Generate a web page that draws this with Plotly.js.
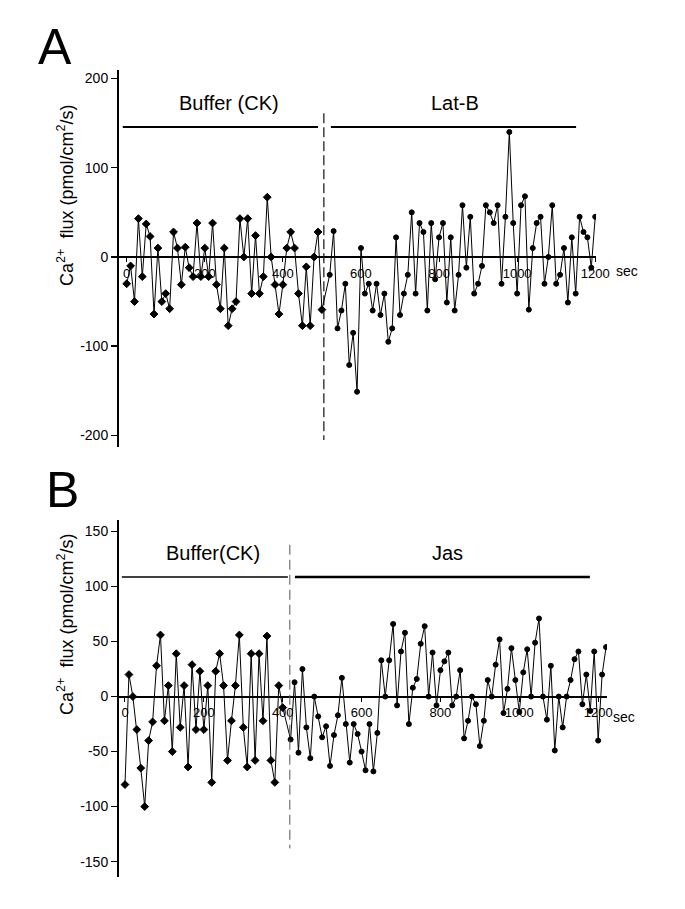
<!DOCTYPE html>
<html><head><meta charset="utf-8">
<script src="https://cdn.plot.ly/plotly-3.0.1.min.js"></script>
<style>html,body{margin:0;padding:0;background:#fff}#chart{width:685px;height:909px}</style>
</head><body><div id="chart"></div>
<script>
// ---------- data ----------
const timeA = [0,10,20,30,40,50,60,70,80,90,100,110,120,130,140,150,160,170,180,190,200,210,220,230,240,250,260,270,280,290,300,310,320,330,340,350,360,370,380,390,400,410,420,430,440,450,460,470,480,490,500,
  520,530,540,550,560,570,580,590,600,610,620,630,640,650,660,670,680,690,700,710,720,730,740,750,760,770,780,790,800,810,820,830,840,850,860,870,880,890,900,910,920,930,940,950,960,970,980,990,1000,1010,1020,1030,1040,1050,1060,1070,1080,1090,1100,1110,1120,1130,1140,1150,1160,1170,1180,1190,1200];
const fluxA = [-30,-10,-50,43,-22,37,23,-64,10,-50,-41,-58,28,10,-31,11,-12,-22,38,-22,10,-22,38,-31,-58,10,-77,-58,-50,43,0,43,-41,24,-41,-22,67,0,-31,-64,-31,10,28,10,-41,-77,-11,-77,0,28,-59,
  -20,29,-80,-60,-30,-121,-85,-151,10,-41,-30,-60,-30,-65,-41,-95,-80,22,-65,-41,-20,50,-41,38,28,-60,38,-25,22,38,-51,22,-60,-20,58,-12,45,-41,-30,-10,58,50,38,58,-30,45,140,38,-41,58,68,-59,10,38,45,-30,0,58,-30,-20,10,-51,22,-41,45,28,22,-12,45];

const timeB = [0,10,20,30,40,50,60,70,80,90,100,110,120,130,140,150,160,170,180,190,200,210,220,230,240,250,260,270,280,290,300,310,320,330,340,350,360,370,380,390,400,
  420,430,440,450,460,470,480,490,500,510,520,530,540,550,560,570,580,590,600,610,620,630,640,650,660,670,680,690,700,710,720,730,740,750,760,770,780,790,800,810,820,830,840,850,860,870,880,890,900,910,920,930,940,950,960,970,980,990,1000,1010,1020,1030,1040,1050,1060,1070,1080,1090,1100,1110,1120,1130,1140,1150,1160,1170,1180,1190,1200,1210,1220];
const fluxB = [-80,20,0,-30,-65,-100,-40,-23,28,56,-22,10,-50,39,-28,10,-64,29,-30,23,-30,10,-78,23,39,10,-58,-22,10,56,-28,-64,39,-58,39,-22,55,-58,-78,10,-10,
  -39,13,-51,25,-28,-56,0,-18,-37,-27,-63,-35,-17,17,-25,-60,-25,-34,-50,-67,-25,-68,-33,33,0,33,66,-8,41,58,-25,8,16,48,64,0,40,-8,24,32,40,-8,0,24,-38,-22,0,-7,-45,-22,15,0,29,52,-15,7,44,15,-14,22,43,0,49,71,0,-21,28,-49,0,-28,0,15,34,41,-7,20,-13,41,-40,20,45];

const phaseLabelsA = ['Buffer (CK)', 'Lat-B'];
const phaseStartA = [-10, 523];
const phaseEndA = [490, 1151];
const switchTimeA = 505;

const phaseLabelsB = ['Buffer(CK)', 'Jas'];
const phaseStartB = [-8, 431];
const phaseEndB = [413, 1179];
const switchTimeB = 418;

const xTicks = [0,200,400,600,800,1000,1200];
const yTicksA = [-200,-100,0,100,200];
const yTicksB = [-150,-100,-50,0,50,100,150];

// ---------- geometry ----------
const W = 685, H = 909;
const FONT = 'Liberation Sans, Arial, Helvetica, sans-serif';
const px = v => v / W;
const py = v => 1 - v / H;

const domXA = [px(119), px(596)], domYA = [py(447), py(70)];
const domXB = [px(119), px(607)], domYB = [py(877), py(520)];
const rangeXA = [-19.7, 1202], rangeYA = [-212.9, 209.5];
const rangeXB = [-15.2, 1222.4], rangeYB = [-164, 160.5];

function zeroPos(dom, rng) {
  return dom[0] + (0 - rng[0]) / (rng[1] - rng[0]) * (dom[1] - dom[0]);
}
function symbols(times, switchT) {
  return times.map(t => t < switchT ? 'diamond' : 'circle');
}
function sizes(times, switchT) {
  return times.map(t => t < switchT ? 6 : 5);
}

const traces = [
  {x: timeA, y: fluxA, xaxis: 'x', yaxis: 'y', type: 'scatter', mode: 'lines+markers',
   line: {color: '#000', width: 1},
   marker: {color: '#000', opacity: 1, symbol: symbols(timeA, switchTimeA), size: sizes(timeA, switchTimeA), line: {width: 1, color: '#000'}},
   showlegend: false, hoverinfo: 'skip'},
  {x: timeB, y: fluxB, xaxis: 'x2', yaxis: 'y2', type: 'scatter', mode: 'lines+markers',
   line: {color: '#000', width: 1},
   marker: {color: '#000', opacity: 1, symbol: symbols(timeB, switchTimeB), size: sizes(timeB, switchTimeB), line: {width: 1, color: '#000'}},
   showlegend: false, hoverinfo: 'skip'}
];

function xAxis(dom, rng, pos) {
  return {domain: dom, range: rng, anchor: 'free', position: pos,
    showline: true, linecolor: '#000', linewidth: 2, showgrid: false, zeroline: false,
    ticks: 'outside', ticklen: 4, tickwidth: 1, tickcolor: '#000',
    tickvals: xTicks, ticktext: xTicks.map(String),
    tickfont: {family: FONT, size: 13, color: '#000'}, fixedrange: true, layer: 'below traces'};
}
function yAxis(dom, rng, ticks, anchorX) {
  return {domain: dom, range: rng, anchor: anchorX,
    showline: true, linecolor: '#000', linewidth: 2, showgrid: false, zeroline: false,
    ticks: 'outside', ticklen: 6, tickwidth: 1.5, tickcolor: '#000',
    tickvals: ticks, ticktext: ticks.map(String),
    tickfont: {family: FONT, size: 14, color: '#000'}, fixedrange: true};
}

const shapes = [];
const annotations = [];

function addPhases(xref, yref, labels, starts, ends, lineY, labelX, labelY, widths) {
  labels.forEach((lab, i) => {
    shapes.push({type: 'line', xref: xref, yref: yref, x0: starts[i], x1: ends[i], y0: lineY, y1: lineY,
      line: {color: '#000', width: widths[i]}});
    annotations.push({xref: xref, yref: yref, x: labelX[i], y: labelY, text: lab, showarrow: false,
      xanchor: 'center', yanchor: 'middle', font: {family: FONT, size: 20, color: '#000'}});
  });
}
addPhases('x', 'y', phaseLabelsA, phaseStartA, phaseEndA, 145.7, [262, 841], 172.5, [2, 2]);
addPhases('x2', 'y2', phaseLabelsB, phaseStartB, phaseEndB, 108.6, [223, 819], 130.5, [1.5, 2.5]);

shapes.push({type: 'line', xref: 'x', yref: 'y', x0: switchTimeA, x1: switchTimeA, y0: 161, y1: -205,
  line: {color: '#111', width: 1.2, dash: '10px,4px'}});
shapes.push({type: 'line', xref: 'x2', yref: 'y2', x0: switchTimeB, x1: switchTimeB, y0: 138, y1: -138,
  line: {color: '#555', width: 1, dash: '10px,5px'}});

const yTitle = 'Ca<sup>2+</sup>&nbsp; flux (pmol/cm<sup>2</sup>/s)';
annotations.push({xref: 'paper', yref: 'paper', x: px(65), y: py(196), text: yTitle, textangle: -90,
  showarrow: false, xanchor: 'center', yanchor: 'middle', font: {family: FONT, size: 18, color: '#000'}});
annotations.push({xref: 'paper', yref: 'paper', x: px(65), y: py(625), text: yTitle, textangle: -90,
  showarrow: false, xanchor: 'center', yanchor: 'middle', font: {family: FONT, size: 18, color: '#000'}});

annotations.push({xref: 'paper', yref: 'paper', x: px(614), y: py(271), text: 'sec', showarrow: false,
  xanchor: 'left', yanchor: 'middle', font: {family: FONT, size: 14, color: '#000'}});
annotations.push({xref: 'paper', yref: 'paper', x: px(611), y: py(717), text: 'sec', showarrow: false,
  xanchor: 'left', yanchor: 'middle', font: {family: FONT, size: 14, color: '#000'}});

annotations.push({xref: 'paper', yref: 'paper', x: px(55), y: py(47), text: 'A', showarrow: false,
  xanchor: 'center', yanchor: 'middle', font: {family: FONT, size: 50, color: '#000'}});
annotations.push({xref: 'paper', yref: 'paper', x: px(63), y: py(490), text: 'B', showarrow: false,
  xanchor: 'center', yanchor: 'middle', font: {family: FONT, size: 50, color: '#000'}});

const layout = {
  width: W, height: H, margin: {l: 0, r: 0, t: 0, b: 0},
  paper_bgcolor: '#fff', plot_bgcolor: 'rgba(0,0,0,0)',
  font: {family: FONT, color: '#000'},
  xaxis: xAxis(domXA, rangeXA, zeroPos(domYA, rangeYA)),
  yaxis: yAxis(domYA, rangeYA, yTicksA, 'x'),
  xaxis2: xAxis(domXB, rangeXB, zeroPos(domYB, rangeYB)),
  yaxis2: yAxis(domYB, rangeYB, yTicksB, 'x2'),
  shapes: shapes, annotations: annotations, showlegend: false
};

Plotly.newPlot('chart', traces, layout, {staticPlot: true, displayModeBar: false});
</script></body></html>
